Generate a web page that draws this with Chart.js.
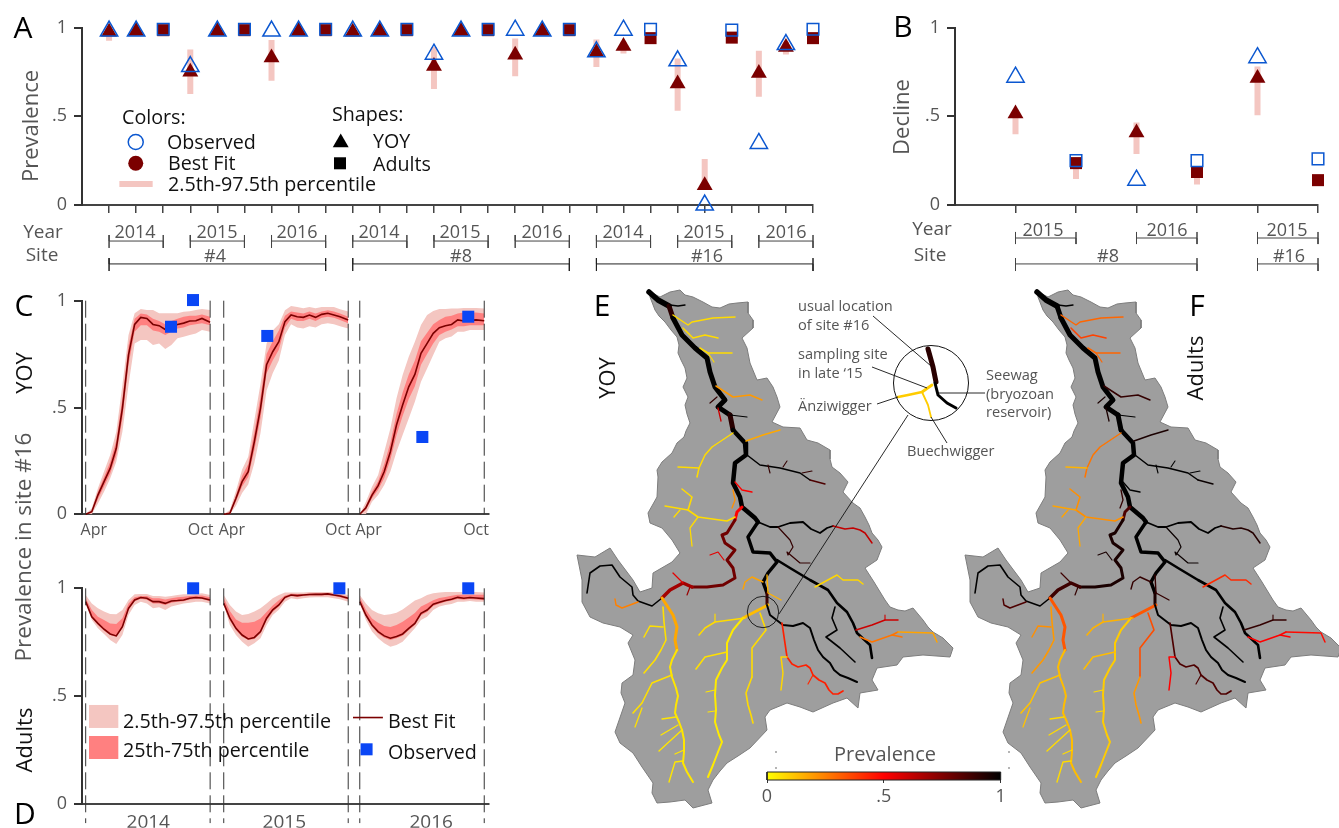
<!DOCTYPE html>
<html>
<head>
<meta charset="utf-8">
<title>Prevalence</title>
<script src="https://cdn.jsdelivr.net/npm/chart.js@4/dist/chart.umd.js"></script>
<style>
  html, body { margin: 0; padding: 0; background: #fff; overflow: hidden; }
  #page { position: relative; width: 1339px; height: 828px; }
  #page canvas { position: absolute; left: 0; top: 0; }
  .txt { position: absolute; white-space: nowrap; line-height: 1; font-family: "Open Sans", sans-serif; }
</style>
</head>
<body>
<div id="page"></div>
<script>
// panel A: 27 samples, site #4 / #8 / #16, years 2014-16
const stageA = ["Y","Y","A","Y","Y","A","Y","Y","A","Y","Y","A","Y","Y","A","Y","Y","A","Y","Y","A","Y","Y","A","Y","Y","A"];
const observedA = [.98,.98,.99,.78,.98,.99,.98,.98,.99,.98,.98,.99,.85,.98,.99,.985,.98,.99,.863,.985,.99,.812,0,.985,.347,.904,.99];
const fitA = [.975,.98,.985,.75,.98,.985,.83,.98,.985,.975,.98,.985,.782,.98,.985,.846,.98,.985,.86,.895,.94,.683,.11,.943,.743,.889,.94];
const lowA = [.925,.96,.97,.625,.96,.97,.70,.96,.97,.95,.96,.97,.653,.96,.97,.726,.96,.97,.778,.854,.92,.531,.085,.92,.61,.848,.92];
const highA = [.99,.99,.99,.876,.99,.99,.93,.99,.99,.99,.99,.99,.89,.99,.99,.938,.99,.99,.932,.92,.96,.825,.259,.96,.869,.92,.96];
const tickIdxA = [0,1,2,3,4,5,6,7,8,9,10,11,12,13,14,15,16,17,18,19,20,21,22,23,24,25,26];
const yearSpansA = [[0,2],[3,5],[6,8],[9,11],[12,14],[15,17],[18,20],[21,23],[24,26]];
const siteSpansA = [[0,8],[9,17],[18,26]];

// panel B: decline, 6 samples
const stageB = ["Y","A","Y","A","Y","A"];
const observedB = [.72,.25,.14,.25,.83,.26];
const fitB = [.514,.236,.407,.186,.715,.14];
const lowB = [.398,.146,.287,.116,.505,.13];
const highB = [.52,.26,.465,.2,.78,.15];
const tickIdxB = [0,1,2,3,4,5];
const yearSpansB = [[0,1],[2,3],[4,5]];
const siteSpansB = [[0,3],[4,5]];

// panels C, D: day of season, one season starts per year on a shared axis
const sampleDays = [0,9,18,27,36,45,54,63,72,81,90,99,108,117,126,135,144,153,162,171,183];
const seasonStart = [0,203,403];

const yoy14Best = [0,.012,.09,.153,.215,.309,.496,.746,.889,.922,.917,.889,.883,.865,.879,.889,.895,.905,.906,.917,.899];
const yoy14Hi95 = [0,.028,.122,.2,.278,.387,.605,.839,.941,.961,.956,.956,.941,.941,.941,.941,.948,.951,.956,.961,.956];
const yoy14Lo95 = [0,0,.051,.106,.168,.246,.387,.605,.8,.816,.816,.793,.8,.774,.793,.824,.831,.839,.847,.863,.855];
const yoy14Hi50 = [0,.018,.105,.175,.245,.345,.545,.79,.915,.94,.935,.915,.905,.89,.905,.915,.925,.93,.93,.935,.925];
const yoy14Lo50 = [0,.006,.07,.13,.19,.275,.45,.70,.855,.885,.885,.86,.855,.84,.855,.87,.875,.885,.89,.895,.885];

const yoy15Best = [0,.005,.075,.153,.2,.34,.496,.70,.761,.808,.902,.933,.925,.922,.933,.922,.936,.941,.933,.925,.91];
const yoy15Hi95 = [0,.02,.11,.21,.27,.44,.61,.80,.86,.89,.955,.975,.97,.965,.97,.965,.97,.97,.97,.96,.95];
const yoy15Lo95 = [0,0,.04,.10,.14,.24,.38,.58,.66,.72,.84,.89,.875,.87,.88,.875,.89,.895,.89,.88,.87];
const yoy15Hi50 = [0,.01,.09,.18,.235,.385,.55,.75,.81,.86,.93,.95,.945,.94,.95,.94,.95,.955,.95,.94,.925];
const yoy15Lo50 = [0,0,.06,.13,.175,.30,.45,.66,.72,.77,.875,.915,.905,.905,.915,.905,.92,.925,.92,.91,.895];

const yoy16Best = [0,.031,.09,.134,.2,.293,.418,.512,.597,.655,.754,.80,.847,.874,.883,.889,.91,.905,.908,.91,.906];
const yoy16Hi95 = [0,.059,.129,.184,.293,.402,.543,.652,.738,.808,.886,.933,.952,.961,.961,.964,.964,.966,.966,.966,.964];
const yoy16Lo95 = [0,0,.059,.09,.137,.2,.293,.371,.449,.527,.621,.683,.746,.808,.824,.832,.855,.855,.863,.863,.863];
const yoy16Hi50 = [0,.04,.105,.155,.235,.335,.47,.57,.655,.72,.81,.85,.89,.91,.925,.93,.94,.945,.945,.945,.94];
const yoy16Lo50 = [0,.02,.075,.115,.17,.255,.37,.46,.54,.60,.70,.75,.80,.84,.855,.865,.88,.88,.885,.885,.885];

const adu14Best = [.938,.868,.837,.81,.788,.779,.822,.907,.946,.957,.954,.938,.938,.93,.941,.943,.946,.954,.957,.955,.946];
const adu14Hi95 = [.969,.93,.907,.892,.881,.879,.899,.946,.972,.974,.974,.964,.964,.961,.964,.969,.972,.972,.974,.977,.969];
const adu14Lo95 = [.93,.853,.814,.788,.76,.741,.783,.876,.923,.938,.93,.907,.912,.899,.915,.923,.93,.933,.938,.938,.93];
const adu14Hi50 = [.954,.899,.868,.853,.837,.834,.861,.93,.958,.964,.964,.954,.954,.948,.954,.958,.961,.964,.966,.966,.958];
const adu14Lo50 = [.935,.862,.83,.803,.783,.775,.815,.898,.94,.952,.947,.93,.93,.922,.933,.937,.94,.948,.95,.95,.94];

const adu15Best = [.93,.861,.814,.783,.765,.772,.799,.861,.9,.923,.958,.969,.966,.969,.971,.972,.972,.974,.969,.964,.954];
const adu15Hi95 = [.969,.923,.892,.876,.881,.892,.907,.93,.954,.969,.981,.981,.981,.981,.983,.983,.983,.983,.981,.977,.969];
const adu15Lo95 = [.923,.83,.783,.752,.729,.745,.768,.83,.876,.9,.938,.954,.949,.954,.957,.958,.958,.958,.954,.949,.938];
const adu15Hi50 = [.954,.895,.855,.84,.84,.845,.86,.89,.92,.945,.966,.975,.974,.974,.976,.977,.977,.978,.975,.97,.96];
const adu15Lo50 = [.925,.85,.805,.775,.76,.765,.79,.85,.89,.915,.952,.964,.96,.964,.966,.967,.967,.968,.964,.958,.948];

const adu16Best = [.938,.876,.83,.799,.779,.768,.776,.788,.814,.837,.884,.899,.926,.935,.943,.949,.958,.954,.957,.955,.952];
const adu16Hi95 = [.969,.93,.899,.884,.876,.879,.887,.902,.923,.943,.954,.969,.977,.98,.983,.983,.983,.983,.983,.983,.981];
const adu16Lo95 = [.93,.853,.799,.768,.745,.729,.737,.752,.783,.814,.853,.868,.899,.915,.923,.927,.938,.938,.941,.938,.938];
const adu16Hi50 = [.958,.9,.86,.84,.825,.82,.83,.845,.865,.885,.915,.93,.945,.955,.96,.965,.97,.97,.97,.97,.97];
const adu16Lo50 = [.934,.87,.822,.79,.77,.76,.768,.78,.805,.83,.875,.89,.918,.928,.937,.943,.95,.947,.95,.948,.945];

const obsYoyDays = [125.5,157.8,267,495,562.5];
const obsYoyVals = [.878,1.003,.835,.362,.925];
const obsAduDays = [158,373,562.5];
const obsAduVals = [1,1,1];

const monthTicks = [12,169,215,371,416,574];
const monthLabels = ["Apr","Oct","Apr","Oct","Apr","Oct"];
const yearTicks = [92,292,508];
const yearLabels = ["2014","2015","2016"];

// catchment outline, map units
const catchment = [[650,292],[660,297],[670,292],[680,290],[685,295],[693,297],[703,302],[712,307],[720,308],[729,304],[737,303],[748,302],[748,313],[753,320],[753,328],[742,338],[747,348],[750,363],[757,380],[767,378],[773,387],[777,397],[780,407],[772,422],[783,427],[800,428],[807,440],[818,443],[830,450],[830,459],[832,467],[840,473],[848,482],[843,492],[853,503],[860,508],[865,517],[869,525],[872,533],[878,540],[882,547],[877,560],[865,568],[874,582],[885,600],[890,607],[898,610],[905,611],[913,608],[918,614],[923,620],[928,627],[933,632],[943,638],[953,648],[950,657],[923,655],[903,657],[897,665],[877,668],[872,680],[878,690],[860,693],[858,708],[847,698],[833,703],[813,712],[800,707],[787,703],[770,710],[765,717],[767,730],[750,748],[738,756],[727,763],[720,771],[713,780],[708,790],[712,803],[693,808],[685,800],[670,802],[657,803],[652,793],[653,783],[642,767],[633,753],[620,743],[615,732],[625,703],[621,693],[622,683],[633,675],[635,660],[628,643],[633,635],[620,627],[603,623],[590,617],[582,602],[582,580],[577,555],[595,557],[610,548],[618,560],[633,580],[640,592],[652,588],[653,573],[672,562],[680,553],[672,540],[662,528],[650,523],[648,513],[657,497],[658,477],[657,470],[662,462],[672,453],[677,443],[684,437],[686,431],[690,423],[687,414],[685,405],[688,397],[683,387],[687,378],[685,368],[681,360],[678,353],[679,345],[677,337],[671,330],[665,322],[659,316],[655,310],[650,297],[650,292]];

// river reaches, map units; reachYoy / reachAdults hold prevalence in the same order
const reaches = [
  [[649,292],[658,300],[669,306]],
  [[669,306],[673,318]],
  [[673,318],[682,335],[695,348],[707,358],[710,372],[715,387],[725,400],[718,407],[730,415]],
  [[730,415],[733,430]],
  [[733,430],[745,443],[746,455],[735,463],[733,483],[740,497],[742,507],[755,518],[758,522]],
  [[758,522],[748,537],[753,552],[770,553],[777,562],[768,573],[763,582],[767,593]],
  [[767,593],[767,605]],
  [[742,507],[737,512],[735,520]],
  [[735,520],[727,533],[722,535],[725,543],[735,550],[727,560],[733,568],[735,578],[723,585],[707,587],[692,587]],
  [[692,587],[683,583],[670,590],[662,598]],
  [[777,560],[790,568],[810,580],[828,590],[837,603],[847,612],[853,623],[857,633],[870,645],[872,658]],
  [[758,522],[770,527],[778,527],[790,523],[803,522],[811,529],[820,533],[827,528],[833,526]],
  [[833,526],[845,529],[853,528],[860,530],[865,533],[872,543]],
  [[778,527],[790,540],[793,547],[788,555],[787,552],[800,563],[810,563]],
  [[670,305],[678,306],[685,305]],
  [[673,315],[688,325],[692,322],[713,318],[735,317]],
  [[683,328],[693,338],[705,335],[718,338]],
  [[700,348],[708,353],[732,353]],
  [[708,353],[714,362]],
  [[716,386],[733,397],[750,395],[762,400]],
  [[717,397],[710,403]],
  [[718,408],[721,421]],
  [[730,415],[747,417]],
  [[733,433],[712,447],[705,455],[699,468],[697,477]],
  [[699,468],[678,467]],
  [[746,441],[763,435],[780,430]],
  [[747,455],[760,465],[780,468],[800,473],[810,480]],
  [[810,480],[825,484]],
  [[783,467],[787,461]],
  [[768,465],[770,473]],
  [[802,473],[812,471]],
  [[735,482],[742,490],[752,492]],
  [[733,490],[735,500],[732,508]],
  [[735,517],[727,521],[698,517],[688,510],[692,497],[682,489]],
  [[688,510],[665,506]],
  [[680,510],[674,517]],
  [[698,517],[690,528],[692,546]],
  [[662,598],[652,606],[638,601],[633,595],[632,587],[620,577],[612,565],[600,566],[590,573],[587,593]],
  [[638,602],[622,608],[616,605],[615,599]],
  [[690,587],[687,595]],
  [[683,583],[673,573]],
  [[724,560],[718,552],[710,555]],
  [[662,598],[673,615],[677,627],[675,640],[677,650]],
  [[677,650],[672,660],[670,667],[672,677],[676,688],[678,696],[676,705],[675,713],[679,722],[682,730],[684,740],[684,752],[683,763],[687,772],[693,782]],
  [[663,607],[664,622],[666,640],[661,650],[655,660],[644,673]],
  [[663,627],[650,626],[644,637]],
  [[672,675],[652,683],[642,703],[633,713]],
  [[642,708],[635,727]],
  [[676,717],[662,719]],
  [[678,725],[661,735]],
  [[682,730],[659,751]],
  [[684,750],[675,754]],
  [[683,761],[675,762],[669,782]],
  [[768,605],[743,618]],
  [[743,618],[733,630],[727,643],[727,660],[722,668],[716,680],[715,695],[716,710],[715,722],[719,735],[722,742],[718,752],[713,765],[708,777]],
  [[745,618],[715,622],[705,628],[699,635]],
  [[715,622],[715,614]],
  [[727,652],[705,657],[696,669]],
  [[715,690],[706,692]],
  [[715,711],[708,712]],
  [[760,613],[766,630],[752,648],[752,677]],
  [[752,677],[749,685],[746,693],[748,705],[751,715],[753,723]],
  [[767,605],[770,615],[783,625],[793,626],[803,623],[810,628],[814,640],[818,650],[823,657],[830,663],[834,670],[840,675],[848,678],[857,682]],
  [[835,607],[832,618],[837,630],[826,637],[840,648],[855,662]],
  [[782,623],[787,657],[792,664],[798,667],[806,665],[810,668],[813,675],[819,680],[825,683],[829,690],[833,694],[838,694],[843,691]],
  [[813,675],[808,684]],
  [[787,657],[781,657],[783,673],[781,690]],
  [[856,630],[872,625],[885,620],[898,620]],
  [[885,615],[885,620]],
  [[860,637],[872,642],[892,635],[898,632]],
  [[898,632],[933,633],[937,642]],
  [[892,635],[902,637]],
  [[815,587],[837,575],[843,580],[858,580],[863,584]],
  [[767,575],[768,593],[781,600]],
  [[763,582],[752,577],[745,582],[743,589]]
];
const reachYoy = [1,.92,1,.92,1,1,.88,.5,.78,.68,1,1,.62,.9,1,.07,.07,.07,.07,.2,.9,.6,1,.07,.07,.17,1,.85,.9,.9,.9,.5,.22,.07,.07,.07,.07,1,.25,.7,.55,.55,.17,.05,.06,.06,.06,.06,.05,.05,.05,.05,.05,.13,.04,.07,.07,.06,.05,.05,.07,.07,1,1,.44,.42,.08,.6,.6,.27,.18,.27,.08,.15,.18];
const reachAdults = [1,1,1,1,1,1,.95,.85,.95,.88,1,1,.93,.98,1,.3,.37,.3,.3,.9,.95,.95,1,.27,.15,.95,1,.98,1,1,1,1,.9,.22,.18,.18,.17,1,.85,.9,.88,.95,.33,.13,.2,.22,.12,.12,.07,.07,.07,.07,.07,.33,.1,.15,.15,.13,.07,.07,.35,.2,1,1,.85,.85,.5,.9,.9,.5,.48,.5,.42,.9,.9];
const reachWidth = [5.5,5,5,5,4.5,3.5,3,3,3,3.5,2.6,1.8,1.5,1.2,1.3,1.5,1.5,1.5,1.2,1.5,1.2,1.3,1.2,1.5,1.5,1.5,1.5,1.3,1.1,1.1,1.1,1.3,1.3,1.6,1.3,1.3,1.3,1.6,1.5,1.2,1.2,1.2,3,2,1.6,1.5,1.6,1.3,1.3,1.3,1.4,1.3,1.4,3,2,1.6,1.2,1.6,1.2,1.2,1.6,1.6,2,1.6,1.7,1.2,1.5,1.5,1.1,1.5,1.5,1.3,1.5,1.4,1.4];

// inset of the site #16 confluence, map E only
const insetReaches = [
  [[928,349],[933,367],[936,382]],
  [[935,383],[938,395],[947,403],[956,408]],
  [[932,385],[922,392],[908,395],[898,397]],
  [[922,392],[928,405],[931,417]]
];
const insetYoy = [.92,1,.1,.1];
const insetWidth = [5,3,2.8,1.8];
const leaderLines = [
  [[779,614],[908,415]],
  [[873,316],[931,366]],
  [[872,367],[927,388]],
  [[877,404],[898,397]],
  [[931,417],[947,443]],
  [[938,393],[985,393]]
];
const smallCircle = [[763,612]];
const insetCircle = [[931,383]];
const strayMarks = [[776,752],[776,768],[1009,752],[1009,768]];

const mapShiftF = 388;
const hotStops = [[0,255,255,0],[.5,255,0,0],[1,0,0,0]];
const colorbarTicks = [0,.5,1];

const GRAY = "#555";
const DARK = "#7b0000";
const BLUE = "#0b57d0";
const PINK = "#f4c6c1";
const RED = "#ff8080";
const SQUARE = "#0a46f5";

const page = document.getElementById("page");
const FULL_W = 1339, FULL_H = 828;
// room kept for the tick labels, Chart.js clips them to the axis box
const AXIS_W = 40, AXIS_H = 24;

function hot(v) {
  for (let i = 1; i < hotStops.length; i++) {
    if (v <= hotStops[i][0]) {
      const a = hotStops[i - 1], b = hotStops[i];
      const t = (v - a[0]) / (b[0] - a[0]);
      return `rgb(${[1, 2, 3].map(k => Math.round(a[k] + (b[k] - a[k]) * t)).join(",")})`;
    }
  }
  return "rgb(0,0,0)";
}

function addText(str, x, y, opts = {}) {
  const el = document.createElement("div");
  el.className = "txt";
  el.textContent = str;
  el.style.left = x + "px";
  el.style.top = y + "px";
  el.style.fontSize = (opts.size || 19) + "px";
  el.style.color = opts.color || GRAY;
  let tf = opts.left ? "translate(0,-50%)" : "translate(-50%,-50%)";
  if (opts.rotate) tf += " rotate(-90deg)";
  el.style.transform = tf;
  page.appendChild(el);
}

// every chart gets the whole page as canvas, the padding places its plot area
function makeChart(area, scales, datasets, roomW = 0, roomH = 0) {
  const canvas = document.createElement("canvas");
  canvas.width = FULL_W;
  canvas.height = FULL_H;
  canvas.style.width = FULL_W + "px";
  canvas.style.height = FULL_H + "px";
  page.appendChild(canvas);
  // array order is paint order
  datasets.forEach((d, i) => { d.order = -i; d.clip = false; });
  return new Chart(canvas.getContext("2d"), {
    type: "scatter",
    data: { datasets },
    options: {
      responsive: false,
      animation: false,
      events: [],
      layout: {
        autoPadding: false,
        padding: { left: area[0] - roomW, top: area[1], right: FULL_W - area[2], bottom: FULL_H - area[3] - roomH }
      },
      plugins: { legend: { display: false }, tooltip: { enabled: false } },
      scales
    }
  });
}

function yAxis(min = 0, max = 1) {
  return {
    min, max,
    afterFit: s => { s.width = AXIS_W; },
    afterBuildTicks: s => { s.ticks = [{ value: 0 }, { value: .5 }, { value: 1 }]; },
    border: { color: "#333", width: 2 },
    grid: { drawOnChartArea: false, color: "#333", lineWidth: 2, tickLength: 8 },
    ticks: {
      color: GRAY, padding: 7,
      font: { family: "Open Sans", size: 18 },
      callback: v => (v === .5 ? ".5" : String(v))
    }
  };
}

function xAxis(min, max, tickVals, labels, tickLength) {
  return {
    type: "linear", min, max,
    afterFit: s => { s.height = AXIS_H; },
    afterBuildTicks: s => { s.ticks = tickVals.map(value => ({ value })); },
    border: { color: "#444", width: 2 },
    grid: { drawOnChartArea: false, color: "#444", lineWidth: 1.5, tickLength, display: true },
    ticks: {
      display: !!labels, color: GRAY, padding: tickLength ? 4 : 7, autoSkip: false, maxRotation: 0,
      font: { family: "Open Sans", size: labels && labels[0] === "Apr" ? 16 : 19 },
      callback: (v, i) => (labels ? labels[i] : "")
    }
  };
}

function pts(xs, ys) { return xs.map((x, i) => ({ x, y: ys[i] })); }

function line(data, color, width, extra = {}) {
  return Object.assign({ data, showLine: true, borderColor: color, borderWidth: width, pointRadius: 0, tension: 0, fill: false }, extra);
}

// range bars share a single broken line
function rangeBars(xs, lows, highs, width) {
  const data = [];
  xs.forEach((x, i) => { data.push({ x, y: lows[i] }, { x, y: highs[i] }, { x, y: null }); });
  return line(data, PINK, width, { spanGaps: false });
}

function bracket(span, yMid, yTop, yBot, color) {
  const [a, b] = span;
  return line([
    { x: a, y: yTop }, { x: a, y: yBot }, { x: a, y: yMid },
    { x: b, y: yMid }, { x: b, y: yTop }, { x: b, y: yBot }
  ], color, 1);
}

function markers(xs, ys, stage, filled, triR, squareR) {
  return {
    data: pts(xs, ys), showLine: false,
    pointStyle: stage.map(s => (s === "Y" ? "triangle" : "rect")),
    pointRadius: stage.map(s => (s === "Y" ? triR : squareR)),
    pointBackgroundColor: filled ? DARK : "rgba(0,0,0,0)",
    pointBorderColor: filled ? DARK : BLUE,
    pointBorderWidth: filled ? 0 : 1.5
  };
}

function legendMark(x, y, style, radius, fillColor, borderColor, bw) {
  return { data: [{ x, y }], showLine: false, pointStyle: style, pointRadius: radius, pointBackgroundColor: fillColor, pointBorderColor: borderColor, pointBorderWidth: bw };
}

// panel A
makeChart([82, 27.5, 813, 205], {
  x: xAxis(-1, 26, tickIdxA, null, 8),
  y: yAxis()
}, [
  rangeBars(tickIdxA, lowA, highA, 6),
  markers(tickIdxA, fitA, stageA, true, 9.2, 8.5),
  markers(tickIdxA, observedA, stageA, false, 10, 8.2),
  ...yearSpansA.map(s => bracket(s, -.203, -.169, -.242, "#444")),
  ...siteSpansA.map(s => bracket(s, -.332, -.299, -.372, "#222")),
  legendMark(.985, .355, "circle", 7.5, "rgba(0,0,0,0)", BLUE, 1.5),
  legendMark(.985, .235, "circle", 7.5, DARK, DARK, 0),
  line([{ x: .38, y: .118 }, { x: 1.61, y: .118 }], PINK, 6),
  legendMark(8.556, .351, "triangle", 9.2, "#000", "#000", 0),
  legendMark(8.53, .235, "rect", 8.5, "#000", "#000", 0)
], AXIS_W, AXIS_H);

// panel B
makeChart([955, 27.5, 1318, 205], {
  x: xAxis(-1, 5, tickIdxB, null, 8),
  y: yAxis()
}, [
  rangeBars(tickIdxB.slice(0, 5), lowB, highB, 6),
  markers(tickIdxB, fitB, stageB, true, 9.2, 8.5),
  markers(tickIdxB, observedB, stageB, false, 10, 8.2),
  ...yearSpansB.map(s => bracket(s, -.186, -.152, -.22, "#444")),
  ...siteSpansB.map(s => bracket(s, -.332, -.299, -.372, "#444"))
], AXIS_W, AXIS_H);

function seasonBands(best, hi95, lo95, hi50, lo50, start) {
  const days = sampleDays.map(d => d + start);
  return [
    line(pts(days, hi95), "rgba(0,0,0,0)", 0, { fill: "+1", backgroundColor: PINK }),
    line(pts(days, lo95), "rgba(0,0,0,0)", 0),
    line(pts(days, hi50), "rgba(0,0,0,0)", 0, { fill: "+1", backgroundColor: RED }),
    line(pts(days, lo50), "rgba(0,0,0,0)", 0),
    line(pts(days, best), DARK, 1.6)
  ];
}

function seasonDashes(yBottom) {
  const out = [];
  seasonStart.forEach(s => {
    [s, s + 183].forEach(x => {
      out.push(line([{ x, y: 1 }, { x, y: yBottom }], "#333", 1, { borderDash: [17, 6] }));
    });
  });
  return out;
}

// panel C
makeChart([82, 300.7, 489, 514.3], {
  x: xAxis(-5.4, 593, monthTicks, monthLabels, 0),
  y: yAxis()
}, [
  ...seasonBands(yoy14Best, yoy14Hi95, yoy14Lo95, yoy14Hi50, yoy14Lo50, seasonStart[0]),
  ...seasonBands(yoy15Best, yoy15Hi95, yoy15Lo95, yoy15Hi50, yoy15Lo50, seasonStart[1]),
  ...seasonBands(yoy16Best, yoy16Hi95, yoy16Lo95, yoy16Hi50, yoy16Lo50, seasonStart[2]),
  ...seasonDashes(0),
  { data: pts(obsYoyDays, obsYoyVals), showLine: false, pointStyle: "rect", pointRadius: 8.5, pointBackgroundColor: SQUARE, pointBorderWidth: 0 }
], AXIS_W, AXIS_H);

// panel D
makeChart([82, 588.3, 489, 803.7], {
  x: xAxis(-5.4, 593, yearTicks, yearLabels, 0),
  y: yAxis()
}, [
  ...seasonBands(adu14Best, adu14Hi95, adu14Lo95, adu14Hi50, adu14Lo50, seasonStart[0]),
  ...seasonBands(adu15Best, adu15Hi95, adu15Lo95, adu15Hi50, adu15Lo50, seasonStart[1]),
  ...seasonBands(adu16Best, adu16Hi95, adu16Lo95, adu16Hi50, adu16Lo50, seasonStart[2]),
  ...seasonDashes(-.09),
  { data: pts(obsAduDays, obsAduVals), showLine: false, pointStyle: "rect", pointRadius: 8.5, pointBackgroundColor: SQUARE, pointBorderWidth: 0 },
  line([{ x: 4.9, y: .405 }, { x: 48, y: .405 }], PINK, 23),
  line([{ x: 4.9, y: .261 }, { x: 48, y: .261 }], RED, 23),
  line([{ x: 393, y: .40 }, { x: 437, y: .40 }], DARK, 1.6),
  legendMark(413, .2525, "rect", 8.5, SQUARE, SQUARE, 0)
], AXIS_W, AXIS_H);

// maps E and F share one chart, its axes are the map units
function shifted(coords, dx) { return coords.map(p => ({ x: p[0] + dx, y: p[1] })); }

function basin(dx) {
  return line(shifted(catchment, dx), "#7d7d7d", 1, { fill: "shape", backgroundColor: "#9e9e9e", borderJoinStyle: "round" });
}

function riverSet(values, dx) {
  return reaches.map((r, i) => line(shifted(r, dx), hot(values[i]), reachWidth[i], { borderCapStyle: "round", borderJoinStyle: "round" }));
}

makeChart([0, 0, FULL_W, FULL_H], {
  x: { type: "linear", min: 0, max: FULL_W, display: false },
  y: { type: "linear", min: 0, max: FULL_H, reverse: true, display: false }
}, [
  basin(0),
  basin(mapShiftF),
  ...riverSet(reachYoy, 0),
  ...riverSet(reachAdults, mapShiftF),
  ...insetReaches.map((r, i) => line(shifted(r, 0), hot(insetYoy[i]), insetWidth[i], { borderCapStyle: "round", borderJoinStyle: "round" })),
  ...leaderLines.map(l => line(shifted(l, 0), "#111", .9)),
  { data: shifted(smallCircle, 0), showLine: false, pointRadius: 15.7, pointBackgroundColor: "rgba(0,0,0,0)", pointBorderColor: "#111", pointBorderWidth: .9 },
  { data: shifted(insetCircle, 0), showLine: false, pointRadius: 37.5, pointBackgroundColor: "rgba(0,0,0,0)", pointBorderColor: "#111", pointBorderWidth: 1 },
  { data: shifted(strayMarks, 0), showLine: false, pointRadius: .7, pointBackgroundColor: "#333", pointBorderWidth: 0 }
]);

// colour bar
makeChart([767, 772, 1000.7, 780], {
  x: {
    type: "linear", min: 0, max: 1,
    afterFit: s => { s.height = AXIS_H; },
    afterBuildTicks: s => { s.ticks = colorbarTicks.map(value => ({ value })); },
    border: { display: false },
    grid: { drawOnChartArea: false, color: "#333", tickLength: 3 },
    ticks: { color: GRAY, padding: 3, maxRotation: 0, font: { family: "Open Sans", size: 18 }, callback: v => (v === .5 ? ".5" : String(v)) }
  },
  y: { type: "linear", min: 0, max: 1, display: false }
}, [
  line([{ x: 0, y: .5 }, { x: 1, y: .5 }], c => {
    const area = c.chart.chartArea;
    if (!area) return "#000";
    const g = c.chart.ctx.createLinearGradient(area.left, 0, area.right, 0);
    hotStops.forEach(s => g.addColorStop(s[0], hot(s[0])));
    return g;
  }, 8),
  line([{ x: 0, y: 0 }, { x: 1, y: 0 }, { x: 1, y: 1 }, { x: 0, y: 1 }, { x: 0, y: 0 }], "#222", 1)
], 0, AXIS_H);

// panel letters
[["A", 23, 27], ["B", 903, 26], ["C", 24, 305], ["D", 25, 813], ["E", 602, 305], ["F", 1197, 305]]
  .forEach(t => addText(t[0], t[1], t[2], { size: 30, color: "#000" }));

// axis titles
addText("Prevalence", 29, 126, { size: 22, rotate: true });
addText("Decline", 900, 117, { size: 22, rotate: true });
addText("YOY", 23, 373, { size: 22, color: "#111", rotate: true });
addText("Prevalence in site #16", 23, 547, { size: 22.5, rotate: true });
addText("Adults", 23, 740, { size: 22, color: "#111", rotate: true });
addText("YOY", 606, 378, { size: 22, color: "#111", rotate: true });
addText("Adults", 1194, 368, { size: 22, color: "#111", rotate: true });

// panel A under-axis labels
addText("Year", 43, 231);
addText("Site", 42, 254);
[[135, "2014"], [217, "2015"], [297, "2016"], [379, "2014"], [460, "2015"], [542, "2016"], [623, "2014"], [704, "2015"], [786, "2016"]]
  .forEach(t => addText(t[1], t[0], 231, { size: 18 }));
[[215, "#4"], [461, "#8"], [707, "#16"]].forEach(t => addText(t[1], t[0], 255, { size: 18 }));

// panel B under-axis labels
addText("Year", 932, 228);
addText("Site", 930, 254);
[[1043, "2015"], [1167, "2016"], [1287, "2015"]].forEach(t => addText(t[1], t[0], 229, { size: 18 }));
[[1108, "#8"], [1289, "#16"]].forEach(t => addText(t[1], t[0], 255, { size: 18 }));

// legend of panel A
const INK = { color: "#111", left: true, size: 19.7 };
addText("Colors:", 122, 117, INK);
addText("Observed", 167, 142, INK);
addText("Best Fit", 168, 163, INK);
addText("2.5th-97.5th percentile", 168, 184, INK);
addText("Shapes:", 332, 114, INK);
addText("YOY", 373, 141, INK);
addText("Adults", 373, 164, INK);

// legend of panel D
addText("2.5th-97.5th percentile", 123, 721, INK);
addText("25th-75th percentile", 123, 750, INK);
addText("Best Fit", 388, 721, INK);
addText("Observed", 388, 752, INK);

// map notes
const NOTE = { size: 14.6, left: true };
addText("usual location", 798, 305, NOTE);
addText("of site #16", 798, 324, NOTE);
addText("sampling site", 798, 353, NOTE);
addText("in late ‘15", 798, 372, NOTE);
addText("Änziwigger", 798, 405, NOTE);
addText("Buechwigger", 907, 450, NOTE);
addText("Seewag", 986, 374, NOTE);
addText("(bryozoan", 986, 393, NOTE);
addText("reservoir)", 986, 411, NOTE);
addText("Prevalence", 885, 754, { size: 20 });
</script>
</body>
</html>
